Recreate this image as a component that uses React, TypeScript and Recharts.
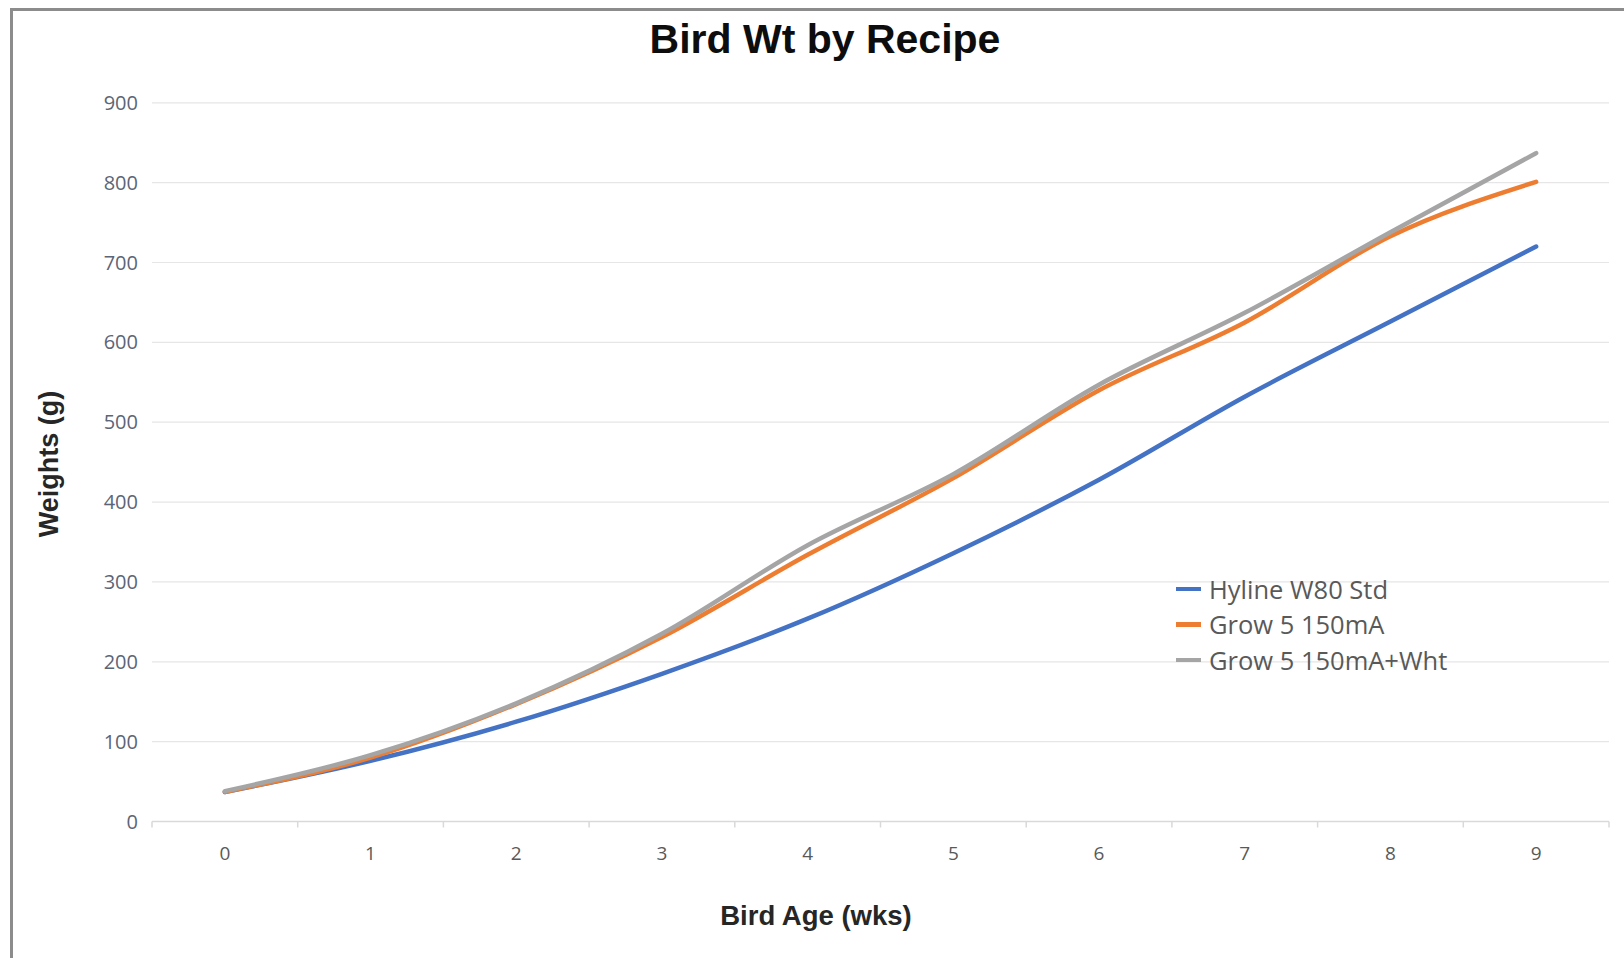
import React from 'react';
import { LineChart, Line, XAxis, YAxis, CartesianGrid } from 'recharts';

const categories = ['0', '1', '2', '3', '4', '5', '6', '7', '8', '9'];
const hylineW80Std = [37, 76, 125, 185, 254, 336, 428, 532, 626, 720];
const grow5_150mA = [37, 80, 147, 231, 334, 430, 540, 625, 733, 801];
const grow5_150mAWht = [38, 83, 148, 235, 346, 435, 547, 637, 738, 837];
const yTicks = [0, 100, 200, 300, 400, 500, 600, 700, 800, 900];

const seriesNames = ['Hyline W80 Std', 'Grow 5 150mA', 'Grow 5 150mA+Wht'];
const seriesColors = ['#4472C4', '#ED7D31', '#A5A5A5'];

const data = categories.map((c, i) => ({
  week: c,
  hyline: hylineW80Std[i],
  grow5: grow5_150mA[i],
  grow5Wht: grow5_150mAWht[i],
}));

const W = 1624;
const H = 958;
const PLOT_LEFT = 152;
const PLOT_RIGHT = 1609;
const BAND = (PLOT_RIGHT - PLOT_LEFT) / categories.length;
const HALF = BAND / 2;

const XTick = (props: any) => {
  const { x, y, payload, index } = props;
  const last = index === categories.length - 1;
  return (
    <g>
      <line x1={x - HALF} x2={x - HALF} y1={y} y2={y + 6} stroke="#d9d9d9" strokeWidth={1.5} />
      {last && <line x1={x + HALF} x2={x + HALF} y1={y} y2={y + 6} stroke="#d9d9d9" strokeWidth={1.5} />}
      <text x={x} y={y + 31} textAnchor="middle" dominantBaseline="central" fill="#595959" fontSize={19} fontFamily="Open Sans, sans-serif">
        {payload.value}
      </text>
    </g>
  );
};

const LegendBox = () => (
  <div style={{ position: 'absolute', left: 1176, top: 571, fontFamily: 'Open Sans, sans-serif', fontSize: 25.5, color: '#595959' }}>
    {seriesNames.map((n, i) => (
      <div key={n} style={{ display: 'flex', alignItems: 'center', height: 35.5 }}>
        <div style={{ width: 25, height: 4.5, background: seriesColors[i], marginRight: 8 }} />
        <span style={{ whiteSpace: 'nowrap' }}>{n}</span>
      </div>
    ))}
  </div>
);

export default function App() {
  return (
    <div style={{ position: 'absolute', left: 0, top: 0, width: W, height: H, background: '#fff', overflow: 'hidden' }}>
      <div style={{ position: 'absolute', left: 10, top: 8, width: W, height: H, borderTop: '3px solid #8c8c8c', borderLeft: '3px solid #8c8c8c' }} />
      <div style={{ position: 'absolute', left: 0, top: 0, width: W, height: H }}>
        <LineChart
          width={W}
          height={H}
          data={data}
          margin={{ top: 102.8, right: W - PLOT_RIGHT, bottom: 76.5, left: 0 }}
        >
          <CartesianGrid horizontal vertical={false} stroke="#e6e6e6" strokeWidth={1.2} />
          <XAxis
            dataKey="week"
            height={60}
            padding={{ left: HALF, right: HALF }}
            axisLine={{ stroke: '#d9d9d9', strokeWidth: 1.5 }}
            tickLine={false}
            tickSize={0}
            tickMargin={0}
            tick={<XTick />}
            interval={0}
          />
          <YAxis
            width={PLOT_LEFT}
            domain={[0, 900]}
            ticks={yTicks}
            axisLine={false}
            tickLine={false}
            tickSize={0}
            tickMargin={14}
            tick={{ fill: '#5b6577', fontSize: 20, fontFamily: 'Open Sans, sans-serif' }}
          />
          <Line type="monotone" dataKey="hyline" name={seriesNames[0]} stroke={seriesColors[0]} strokeWidth={4.5} strokeLinecap="round" dot={false} isAnimationActive={false} />
          <Line type="monotone" dataKey="grow5" name={seriesNames[1]} stroke={seriesColors[1]} strokeWidth={4.5} strokeLinecap="round" dot={false} isAnimationActive={false} />
          <Line type="monotone" dataKey="grow5Wht" name={seriesNames[2]} stroke={seriesColors[2]} strokeWidth={4.5} strokeLinecap="round" dot={false} isAnimationActive={false} />
        </LineChart>
      </div>
      <LegendBox />
      <div style={{ position: 'absolute', left: 0, width: 1650, top: 14, textAlign: 'center', fontFamily: 'Liberation Sans, Arial, sans-serif', fontWeight: 'bold', fontSize: 41, lineHeight: '50px', color: '#0d0d0d' }}>
        Bird Wt by Recipe
      </div>
      <div style={{ position: 'absolute', left: 0, width: 1632, top: 899, textAlign: 'center', fontFamily: 'Liberation Sans, Arial, sans-serif', fontWeight: 'bold', fontSize: 27.5, lineHeight: '34px', color: '#262626' }}>
        Bird Age (wks)
      </div>
      <div style={{ position: 'absolute', left: 49 - 150, top: 464 - 17, width: 300, height: 34, textAlign: 'center', transform: 'rotate(-90deg)', fontFamily: 'Liberation Sans, Arial, sans-serif', fontWeight: 'bold', fontSize: 27, lineHeight: '34px', color: '#262626' }}>
        Weights (g)
      </div>
    </div>
  );
}
